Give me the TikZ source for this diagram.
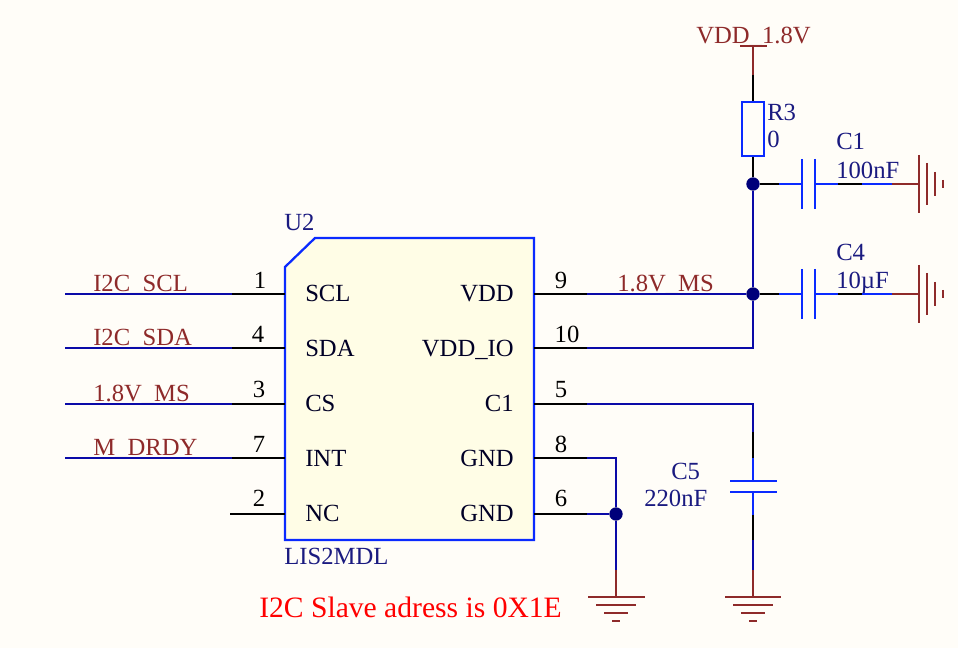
\documentclass[tikz,border=0pt]{standalone}
\usepackage{fontspec}
\setmainfont{Liberation Serif}
\definecolor{sheet}{HTML}{FFFDF8}
\definecolor{partfill}{HTML}{FFFDE6}
\definecolor{netbrown}{HTML}{8E2A2A}
\definecolor{wireblue}{HTML}{0A0AA8}
\definecolor{partblue}{HTML}{0A2AFF}
\definecolor{desnavy}{HTML}{1A1A80}
\definecolor{dotnavy}{HTML}{00007A}
\tikzset{
    pin/.style={draw=black, line width=1.3pt},
    wire/.style={draw=wireblue, line width=1.3pt},
    lead/.style={draw=partblue, line width=1.3pt},
    power/.style={draw=netbrown, line width=1.3pt},
    bar/.style={draw=netbrown, line width=1.8pt},
    plate/.style={draw=partblue, line width=1.7pt},
    dot/.style={circle, fill=dotnavy, inner sep=0pt, minimum size=10pt},
    txt/.style={inner sep=0pt, font=\fontsize{18.5}{20}\selectfont},
    net/.style={txt, text=netbrown, anchor=base west},
    des/.style={txt, text=desnavy, anchor=base west},
    num/.style={txt, text=black, anchor=base},
    sig/.style={txt, text=black!85!blue, anchor=base west},
    sigr/.style={txt, text=black!85!blue, anchor=base east},
}
\begin{document}
\begin{tikzpicture}[x=0.75pt, y=-0.75pt]
    \useasboundingbox (0,0) rectangle (958,648);
    \fill[sheet] (0,0) rectangle (958,648);

    % part outline
    \draw[partblue, line width=1.7pt, fill=partfill] (285,267) -- (315,238) -- (534,238) -- (534,540) -- (285,540) -- cycle;
    \node[des] (u2) at (284,231) {U2};
    \node[des] (lis) at (284,565) {LIS2MDL};

    % left pins
    \coordinate (p1) at (285,294);
    \coordinate (p4) at (285,348);
    \coordinate (p3) at (285,404);
    \coordinate (p7) at (285,458);
    \coordinate (p2) at (285,514);
    \coordinate (k1) at (232,294);
    \coordinate (k4) at (232,348);
    \coordinate (k3) at (232,404);
    \coordinate (k7) at (232,458);
    \coordinate (k2) at (230,514);
    \coordinate (e1) at (65,294);
    \coordinate (e4) at (65,348);
    \coordinate (e3) at (65,404);
    \coordinate (e7) at (65,458);
    \node[net] (scl) at (93,291.5) {I2C\_SCL};
    \node[net] (sda) at (93,345.5) {I2C\_SDA};
    \node[net] (ms) at (93,401.5) {1.8V\_MS};
    \node[net] (drdy) at (93,455.5) {M\_DRDY};
    \draw[wire] (e1) -- (k1);
    \draw[wire] (e4) -- (k4);
    \draw[wire] (e3) -- (k3);
    \draw[wire] (e7) -- (k7);
    \draw[pin] (k1) -- (p1);
    \draw[pin] (k4) -- (p4);
    \draw[pin] (k3) -- (p3);
    \draw[pin] (k7) -- (p7);
    \draw[pin] (k2) -- (p2);
    \node[num] (n1) at (260,289) {1};
    \node[num] (n4) at (258,343) {4};
    \node[num] (n3) at (259,398) {3};
    \node[num] (n7) at (259,453) {7};
    \node[num] (n2) at (259,507) {2};
    \node[sig] (scl2) at (305,302) {SCL};
    \node[sig] (sda2) at (305,357) {SDA};
    \node[sig] (cs) at (305,412) {CS};
    \node[sig] (int) at (305,467) {INT};
    \node[sig] (nc) at (305,522) {NC};

    % right pins
    \coordinate (p9) at (534,294);
    \coordinate (p10) at (534,348);
    \coordinate (p5) at (534,404);
    \coordinate (p8) at (534,458);
    \coordinate (p6) at (534,514);
    \coordinate (k9) at (587,294);
    \coordinate (k10) at (587,348);
    \coordinate (k5) at (587,404);
    \coordinate (k8) at (587,458);
    \coordinate (k6) at (587,514);
    \node[net] (ms2) at (617,291.5) {1.8V\_MS};
    \draw[pin] (p9) -- (k9);
    \draw[pin] (p10) -- (k10);
    \draw[pin] (p5) -- (k5);
    \draw[pin] (p8) -- (k8);
    \draw[pin] (p6) -- (k6);
    \node[num] (n9) at (561,289) {9};
    \node[num] (n10) at (567,343) {10};
    \node[num] (n5) at (561,398) {5};
    \node[num] (n8) at (561,453) {8};
    \node[num] (n6) at (561,507) {6};
    \node[sigr] (vdd) at (514,302) {VDD};
    \node[sigr] (io) at (514,357) {VDD\_IO};
    \node[sigr] (c1s) at (514,412) {C1};
    \node[sigr] (gnd1) at (514,467) {GND};
    \node[sigr] (gnd2) at (514,522) {GND};

    % supply and R3
    \coordinate (vt) at (753,46);
    \coordinate (v1) at (753,75);
    \node[net] (vddlab) at (696,43.5) {VDD\_1.8V};
    \draw[power] (740,46) -- (767,46);
    \draw[power] (vt) -- (v1);
    \node[draw=partblue, line width=1.7pt, inner sep=0pt, minimum width=16.5pt, minimum height=40.5pt] (r3) at (753,129) {};
    \draw[pin] (v1) -- (r3.north);
    \node[des] (r3a) at (767,121) {R3};
    \node[des] (r3b) at (767,148) {0};
    \node[dot] (j1) at (753,184) {};
    \node[dot] (j2) at (753,294) {};
    \draw[pin] (r3.south) -- (j1);
    \draw[wire] (j1) -- (j2);
    \draw[wire] (k9) -- (j2);
    \draw[wire] (k10) -| (j2);

    % C1
    \node[des] (c1a) at (836,150) {C1};
    \node[des] (c1b) at (836,179) {100nF};
    \coordinate (a1) at (779,184);
    \coordinate (a2) at (802,184);
    \coordinate (a3) at (815,184);
    \coordinate (a4) at (838,184);
    \coordinate (a5) at (862,184);
    \coordinate (a6) at (892,184);
    \coordinate (a7) at (919,184);
    \draw[pin] (j1) -- (a1);
    \draw[lead] (a1) -- (a2);
    \draw[plate] (802,159) -- (802,209);
    \draw[plate] (815,159) -- (815,209);
    \draw[lead] (a3) -- (a4);
    \draw[pin] (a4) -- (a5);
    \draw[lead] (a5) -- (a6);
    \draw[power] (a6) -- (a7);
    \draw[bar] (919,155) -- (919,213);
    \draw[bar] (927,163) -- (927,205);
    \draw[bar] (935,172) -- (935,196);
    \draw[bar] (943,180) -- (943,188);

    % C4
    \node[des] (c4a) at (836,261) {C4};
    \node[des] (c4b) at (836,289) {10µF};
    \coordinate (b1) at (779,294);
    \coordinate (b2) at (802,294);
    \coordinate (b3) at (815,294);
    \coordinate (b4) at (838,294);
    \coordinate (b5) at (862,294);
    \coordinate (b6) at (892,294);
    \coordinate (b7) at (919,294);
    \draw[pin] (j2) -- (b1);
    \draw[lead] (b1) -- (b2);
    \draw[plate] (802,269) -- (802,319);
    \draw[plate] (815,269) -- (815,319);
    \draw[lead] (b3) -- (b4);
    \draw[pin] (b4) -- (b5);
    \draw[lead] (b5) -- (b6);
    \draw[power] (b6) -- (b7);
    \draw[bar] (919,265) -- (919,323);
    \draw[bar] (927,273) -- (927,315);
    \draw[bar] (935,282) -- (935,306);
    \draw[bar] (943,290) -- (943,298);

    % C5
    \node[des] (c5a) at (671,480) {C5};
    \node[des] (c5b) at (644,507) {220nF};
    \coordinate (d1) at (753,404);
    \coordinate (d2) at (753,432);
    \coordinate (d3) at (753,458);
    \coordinate (d4) at (753,481);
    \coordinate (d5) at (753,492);
    \coordinate (d6) at (753,515);
    \coordinate (d7) at (753,540);
    \coordinate (d8) at (753,570);
    \coordinate (d9) at (753,597);
    \draw[wire] (k5) -| (d2);
    \draw[pin] (d2) -- (d3);
    \draw[lead] (d3) -- (d4);
    \draw[plate] (730,481) -- (777,481);
    \draw[plate] (730,492) -- (777,492);
    \draw[lead] (d5) -- (d6);
    \draw[pin] (d6) -- (d7);
    \draw[wire] (d7) -- (d8);
    \draw[power] (d8) -- (d9);
    \draw[bar] (725,597) -- (781,597);
    \draw[bar] (733,605) -- (773,605);
    \draw[bar] (741,613) -- (765,613);
    \draw[bar] (749,621) -- (757,621);

    % GND pins 8 and 6
    \node[dot] (j3) at (616,514) {};
    \coordinate (g1) at (616,570);
    \coordinate (g2) at (616,597);
    \draw[wire] (k8) -| (j3);
    \draw[wire] (k6) -- (j3);
    \draw[wire] (j3) -- (g1);
    \draw[power] (g1) -- (g2);
    \draw[bar] (588,597) -- (645,597);
    \draw[bar] (596,605) -- (636,605);
    \draw[bar] (604,613) -- (628,613);
    \draw[bar] (612,621) -- (620,621);

    \node[txt, font=\fontsize{22.2}{24}\selectfont, text=red, anchor=base west] (note) at (259,618) {I2C Slave adress is 0X1E};
\end{tikzpicture}
\end{document}
